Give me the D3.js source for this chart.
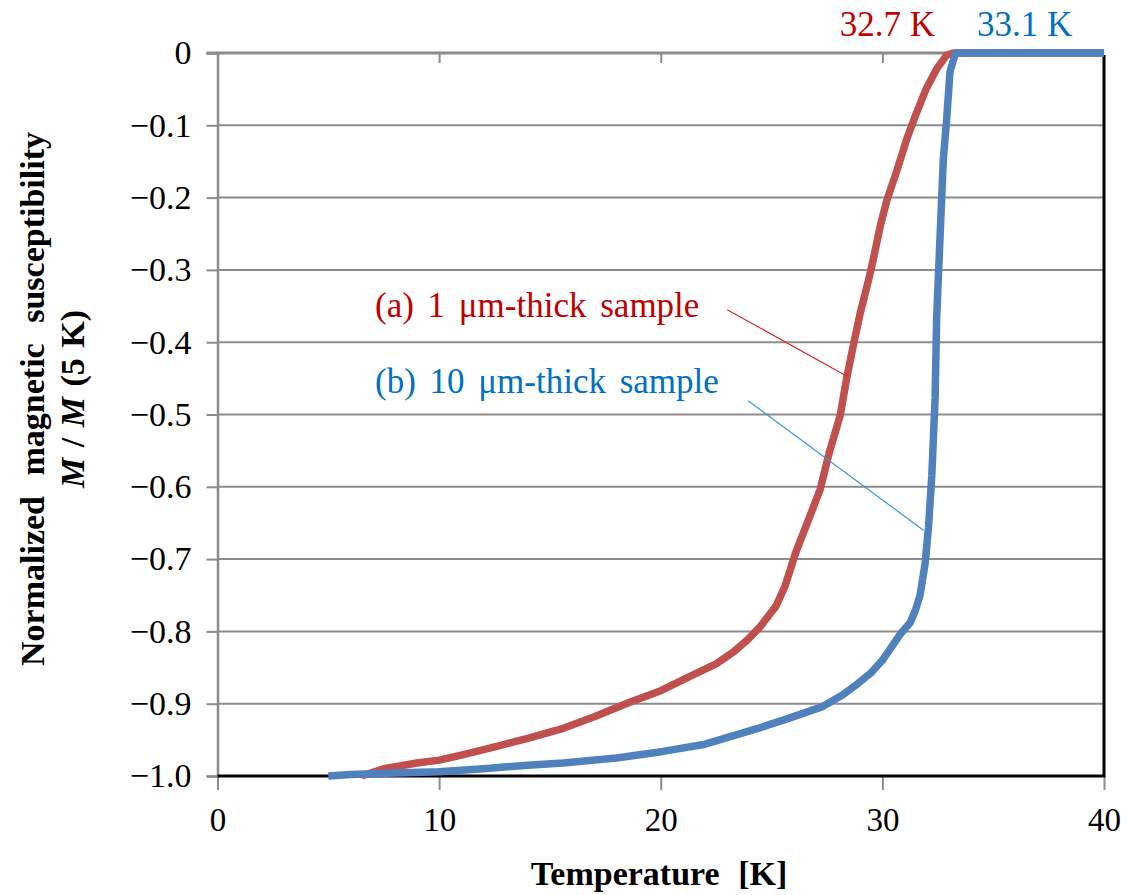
<!DOCTYPE html>
<html lang="en">
<head>
    <meta charset="UTF-8">
    <title>Normalized magnetic susceptibility</title>
    <script src="https://d3js.org/d3.v7.min.js"></script>
    <style>
        body { margin: 0; background: #fff; }
        text { font-family: "Liberation Serif", "Times New Roman", serif; }
    </style>
</head>
<body>
<script>
    // (a) 1 um-thick sample: [temperature K, M / M(5 K)]
    const sampleA = [
        [6.5, -1.0], [7.5, -0.99], [9, -0.982], [10, -0.978], [11, -0.971],
        [12.6, -0.959], [14, -0.948], [15.6, -0.934], [17, -0.918], [18.6, -0.898],
        [20, -0.882], [21.6, -0.858], [22.5, -0.845], [23.3, -0.828], [23.9, -0.812],
        [24.5, -0.793], [25.2, -0.765], [25.6, -0.738], [26.1, -0.69], [26.7, -0.643],
        [27.2, -0.603], [27.6, -0.553], [28.1, -0.501], [28.4, -0.448], [28.7, -0.403],
        [29.0, -0.36], [29.4, -0.311], [29.6, -0.284], [29.9, -0.24], [30.2, -0.204],
        [30.65, -0.163], [31.1, -0.119], [31.5, -0.086], [32.0, -0.048], [32.45, -0.022],
        [32.9, -0.003], [33.2, 0], [40, 0]
    ];
    // (b) 10 um-thick sample
    const sampleB = [
        [5, -1.0], [6, -0.998], [8, -0.996], [10, -0.994], [12, -0.99],
        [14, -0.985], [15.6, -0.982], [18, -0.975], [20.1, -0.966], [22, -0.956],
        [23.1, -0.946], [24.5, -0.933], [25.8, -0.92], [27.3, -0.904], [28.2, -0.888],
        [28.9, -0.872], [29.5, -0.857], [30.0, -0.84], [30.4, -0.822], [30.8, -0.804],
        [31.25, -0.788], [31.5, -0.77], [31.7, -0.75], [31.93, -0.706], [32.08, -0.656],
        [32.23, -0.585], [32.38, -0.476], [32.45, -0.366], [32.6, -0.256], [32.75, -0.147],
        [32.9, -0.092], [33.05, -0.026], [33.3, 0], [40, 0]
    ];
    const xTicks = [0, 10, 20, 30, 40];
    const yTicks = [0, -0.1, -0.2, -0.3, -0.4, -0.5, -0.6, -0.7, -0.8, -0.9, -1.0];
    const yTickLabels = ["0", "\u22120.1", "\u22120.2", "\u22120.3", "\u22120.4", "\u22120.5",
        "\u22120.6", "\u22120.7", "\u22120.8", "\u22120.9", "\u22121.0"];
    // leader lines: [from, to] in data units
    const leaderA = [[23.0, -0.355], [28.4, -0.447]];
    const leaderB = [[23.94, -0.481], [31.85, -0.66]];

    const width = 1128;
    const height = 895;
    const plotLeft = 217.5, plotRight = 1104, plotTop = 53, plotBottom = 776;

    const svg = d3.select("body").append("svg")
        .attr("width", width)
        .attr("height", height);

    const x = d3.scaleLinear().domain([0, 40]).range([plotLeft, plotRight]);
    const y = d3.scaleLinear().domain([-1, 0]).range([plotBottom, plotTop]);

    // grid lines
    svg.append("g")
        .selectAll("line")
        .data(yTicks.filter(d => d !== 0 && d !== -1))
        .join("line")
        .attr("x1", plotLeft).attr("x2", plotRight)
        .attr("y1", d => y(d)).attr("y2", d => y(d))
        .attr("stroke", "#8c8c8c")
        .attr("stroke-width", 2);

    // left axis with outward ticks
    const yAxis = svg.append("g")
        .attr("transform", `translate(${plotLeft},0)`)
        .call(d3.axisLeft(y).tickValues(yTicks).tickSize(11).tickPadding(15)
            .tickFormat((d, i) => yTickLabels[i]));
    yAxis.select(".domain").attr("stroke", "#8c8c8c").attr("stroke-width", 2.5);
    yAxis.selectAll(".tick line").attr("stroke", "#8c8c8c").attr("stroke-width", 2);
    yAxis.selectAll(".tick text")
        .attr("font-size", 34)
        .attr("fill", "#000");

    // x axis line at y = 0 (top), ticks pointing down
    const xTop = svg.append("g")
        .attr("transform", `translate(0,${plotTop})`)
        .call(d3.axisBottom(x).tickValues(xTicks.slice(1, -1)).tickSize(10).tickFormat(""));
    xTop.select(".domain").remove();
    xTop.selectAll(".tick line").attr("stroke", "#8c8c8c").attr("stroke-width", 2);
    svg.append("line")
        .attr("x1", plotLeft - 11).attr("x2", plotRight)
        .attr("y1", plotTop).attr("y2", plotTop)
        .attr("stroke", "#8c8c8c").attr("stroke-width", 3);

    // bottom labels with ticks below frame
    const xBottom = svg.append("g")
        .attr("transform", `translate(0,${plotBottom})`)
        .call(d3.axisBottom(x).tickValues(xTicks).tickSize(14).tickPadding(18));
    xBottom.select(".domain").remove();
    xBottom.selectAll(".tick line").attr("stroke", "#8c8c8c").attr("stroke-width", 2);
    xBottom.selectAll(".tick text")
        .attr("font-size", 33)
        .attr("fill", "#000");

    // black frame bottom and right
    svg.append("path")
        .attr("d", `M${plotLeft},${plotBottom}H${plotRight}V${plotTop + 2}`)
        .attr("fill", "none")
        .attr("stroke", "#000")
        .attr("stroke-width", 3);

    const line = d3.line()
        .x(d => x(d[0]))
        .y(d => y(d[1]));

    svg.append("path")
        .datum(sampleA)
        .attr("fill", "none")
        .attr("stroke", "#c0504d")
        .attr("stroke-width", 7.5)
        .attr("stroke-linejoin", "round")
        .attr("d", line);

    svg.append("path")
        .datum(sampleB)
        .attr("fill", "none")
        .attr("stroke", "#4f81bd")
        .attr("stroke-width", 7.5)
        .attr("stroke-linejoin", "round")
        .attr("d", line);

    // leader lines
    svg.append("path")
        .datum(leaderA)
        .attr("fill", "none")
        .attr("stroke", "#d42a2a")
        .attr("stroke-width", 1.2)
        .attr("d", line);
    svg.append("path")
        .datum(leaderB)
        .attr("fill", "none")
        .attr("stroke", "#3c95d8")
        .attr("stroke-width", 1.2)
        .attr("d", line);

    // annotations
    svg.append("text")
        .attr("x", 375).attr("y", 317)
        .attr("font-size", 35)
        .attr("word-spacing", 5)
        .attr("fill", "#c00000")
        .text("(a) 1 \u03bcm-thick sample");
    svg.append("text")
        .attr("x", 375).attr("y", 393)
        .attr("font-size", 35)
        .attr("word-spacing", 5)
        .attr("fill", "#0070c0")
        .text("(b) 10 \u03bcm-thick sample");

    svg.append("text")
        .attr("x", 935).attr("y", 36)
        .attr("text-anchor", "end")
        .attr("font-size", 35)
        .attr("fill", "#c00000")
        .text("32.7 K");
    svg.append("text")
        .attr("x", 977).attr("y", 36)
        .attr("font-size", 35)
        .attr("fill", "#0070c0")
        .text("33.1 K");

    // axis titles
    svg.append("text")
        .attr("x", 659).attr("y", 885)
        .attr("text-anchor", "middle")
        .attr("font-size", 34)
        .attr("font-weight", "bold")
        .attr("word-spacing", 10)
        .text("Temperature [K]");

    const yTitle = svg.append("text")
        .attr("transform", "translate(44,399) rotate(-90)")
        .attr("text-anchor", "middle")
        .attr("font-size", 34)
        .attr("font-weight", "bold")
        .attr("word-spacing", 12);
    yTitle.append("tspan")
        .attr("x", 0).attr("y", 0)
        .text("Normalized magnetic susceptibility");
    const yTitle2 = yTitle.append("tspan")
        .attr("x", 0).attr("dy", 40)
        .attr("word-spacing", 2);
    yTitle2.append("tspan").attr("font-style", "italic").text("M");
    yTitle2.append("tspan").text(" / ");
    yTitle2.append("tspan").attr("font-style", "italic").text("M");
    yTitle2.append("tspan").text(" (5 K)");
</script>
</body>
</html>
